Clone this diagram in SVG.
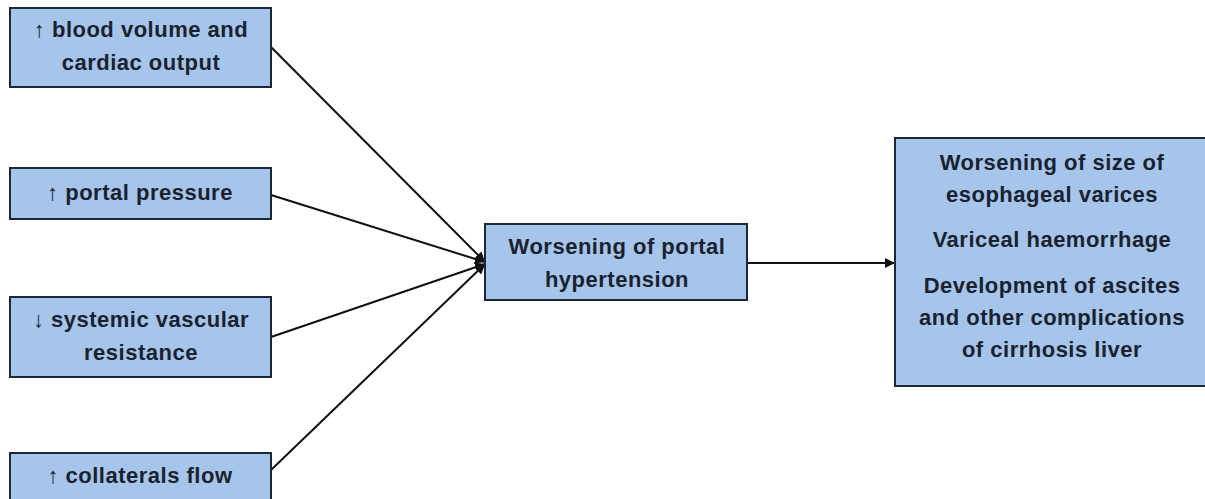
<svg xmlns="http://www.w3.org/2000/svg" width="1205" height="499" viewBox="0 0 1205 499">
  <style>
    .box { fill: #a6c5ea; stroke: #1c2836; stroke-width: 2; }
    .lbl { font-family: "Liberation Sans", Arial, sans-serif; font-weight: bold; font-size: 22px; letter-spacing: 0.5px; fill: #1a2230; text-anchor: middle; }
    .con { stroke: #111; stroke-width: 2; fill: none; }
  </style>
  <defs>
    <marker id="head" viewBox="0 0 10 10" refX="10" refY="5" markerWidth="5" markerHeight="5" orient="auto">
      <path d="M0,0 L10,5 L0,10 z" fill="#111"/>
    </marker>
  </defs>
  <rect width="1205" height="499" fill="#ffffff"/>

  <g id="connectors">
    <line class="con" x1="271" y1="47" x2="485" y2="262" marker-end="url(#head)"/>
    <line class="con" x1="271" y1="195" x2="485" y2="262" marker-end="url(#head)"/>
    <line class="con" x1="271" y1="337" x2="485" y2="264" marker-end="url(#head)"/>
    <line class="con" x1="271" y1="470" x2="485" y2="264" marker-end="url(#head)"/>
    <line class="con" x1="747" y1="263" x2="895" y2="263" marker-end="url(#head)"/>
  </g>

  <g id="blood-volume">
    <rect class="box" x="10" y="8" width="261" height="79"/>
    <text class="lbl" x="141" y="37">↑ blood volume and</text>
    <text class="lbl" x="141" y="70">cardiac output</text>
  </g>

  <g id="portal-pressure">
    <rect class="box" x="10" y="168" width="261" height="51"/>
    <text class="lbl" x="140" y="200">↑ portal pressure</text>
  </g>

  <g id="vascular-resistance">
    <rect class="box" x="10" y="297" width="261" height="80"/>
    <text class="lbl" x="141" y="327">↓ systemic vascular</text>
    <text class="lbl" x="141" y="360">resistance</text>
  </g>

  <g id="collaterals-flow">
    <rect class="box" x="10" y="453" width="261" height="60"/>
    <text class="lbl" x="140" y="483">↑ collaterals flow</text>
  </g>

  <g id="portal-hypertension">
    <rect class="box" x="485" y="224" width="262" height="76"/>
    <text class="lbl" x="617" y="254">Worsening of portal</text>
    <text class="lbl" x="617" y="287">hypertension</text>
  </g>

  <g id="complications">
    <rect class="box" x="895" y="138" width="320" height="248"/>
    <text class="lbl" x="1052" y="170">Worsening of size of</text>
    <text class="lbl" x="1052" y="202">esophageal varices</text>
    <text class="lbl" x="1052" y="247">Variceal haemorrhage</text>
    <text class="lbl" x="1052" y="293">Development of ascites</text>
    <text class="lbl" x="1052" y="325">and other complications</text>
    <text class="lbl" x="1052" y="357">of cirrhosis liver</text>
  </g>
</svg>
